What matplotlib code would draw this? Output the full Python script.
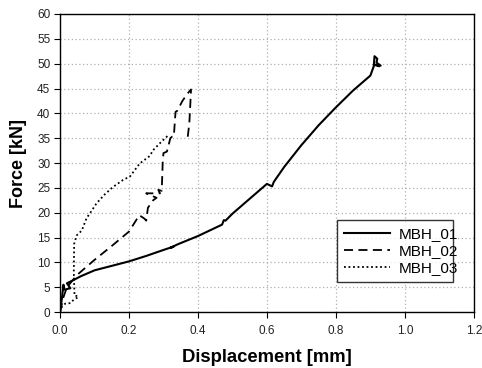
import matplotlib.pyplot as plt
import numpy as np

plt.rcParams['font.family'] = ['Liberation Sans', 'DejaVu Sans']

# MBH_01 (solid)
disp_01 = [0.0, 0.005, 0.01, 0.012, 0.03, 0.02, 0.035, 0.06, 0.1, 0.15, 0.2, 0.25,
           0.3, 0.33, 0.32, 0.34, 0.4, 0.47, 0.475, 0.48, 0.5, 0.55, 0.6, 0.615,
           0.62, 0.65, 0.7, 0.75, 0.8, 0.85, 0.9, 0.91, 0.912, 0.92, 0.918, 0.93, 0.91, 0.925]
force_01 = [0.0, 2.5, 5.5, 4.5, 4.8, 5.8, 6.3, 7.2, 8.4, 9.3, 10.2, 11.3,
            12.5, 13.2, 12.9, 13.6, 15.3, 17.6, 18.5, 18.4, 19.8, 22.8, 25.8, 25.3,
            26.2, 29.2, 33.6, 37.6, 41.2, 44.6, 47.6, 49.5, 51.5, 51.0, 50.2, 49.6, 49.8, 49.5]

# MBH_02 (dashed)
disp_02 = [0.0, 0.01, 0.02, 0.05, 0.1, 0.15, 0.2, 0.23, 0.245, 0.25, 0.255, 0.27,
           0.28, 0.25, 0.29, 0.285, 0.295, 0.298, 0.30, 0.31, 0.32, 0.325, 0.33,
           0.335, 0.34, 0.355, 0.37, 0.38, 0.378, 0.375, 0.37]
force_02 = [0.0, 3.0, 5.0, 7.5, 10.5, 13.3, 16.2, 19.5, 18.8, 18.4, 21.0, 22.5,
            23.0, 23.9, 23.9, 24.6, 24.4, 30.5, 32.0, 32.3, 35.0, 35.3, 35.3,
            40.3, 40.5, 42.5, 44.0, 44.8, 42.0, 38.0, 35.0]

# MBH_03 (dotted)
disp_03 = [0.0, 0.005, 0.015, 0.03, 0.04, 0.05, 0.053, 0.042, 0.04, 0.041, 0.048,
           0.063, 0.077, 0.087, 0.106, 0.13, 0.154, 0.183, 0.203, 0.231, 0.26, 0.27,
           0.29, 0.314]
force_03 = [0.0, 1.0, 1.7, 1.8, 2.5, 2.9, 3.2, 3.3, 8.0, 13.7, 15.4,
            16.4, 18.9, 19.9, 21.9, 23.7, 25.2, 26.6, 27.3, 29.9, 31.4, 32.6,
            34.0, 35.6]

x_ticks = [0.0, 0.2, 0.4, 0.6, 0.8, 1.0, 1.2]
y_ticks = list(range(0, 61, 5))

fig = plt.figure(figsize=(4.82, 3.68), dpi=100)
ax = fig.add_axes([0.1245, 0.152, 0.8585, 0.81])

ax.plot(disp_01, force_01, color='black', linestyle='-', linewidth=1.5, label='MBH_01')
ax.plot(disp_02, force_02, color='black', linestyle=(0, (5, 3)), linewidth=1.3, label='MBH_02')
ax.plot(disp_03, force_03, color='black', linestyle=(0, (1, 1.5)), linewidth=1.3, label='MBH_03')

ax.set_xlim(0, 1.2)
ax.set_ylim(0, 60)
ax.set_xticks(x_ticks)
ax.set_xticklabels(['%.1f' % v for v in x_ticks])
ax.set_yticks(y_ticks)
ax.tick_params(labelsize=8.5, direction='out', length=4, width=0.8, pad=3,
               labelcolor='#222222')
ax.tick_params(axis='x', pad=5)

ax.grid(True, color='#b0b0b0', linestyle=(0, (1, 2)), linewidth=0.9)
ax.set_axisbelow(True)
for s in ax.spines.values():
    s.set_linewidth(1.0)

ax.set_xlabel('Displacement [mm]', fontsize=13.3, fontweight='bold', labelpad=9)
ax.set_ylabel('Force [kN]', fontsize=13, fontweight='bold', labelpad=7)

leg = ax.legend(loc='lower left', bbox_to_anchor=(0.669, 0.1, 0.28, 0.226), mode='expand',
                fontsize=11, frameon=True, fancybox=False, handlelength=3.0,
                handletextpad=0.6, borderaxespad=0, labelspacing=0.2, borderpad=0.45)
leg.get_frame().set_edgecolor('black')
leg.get_frame().set_linewidth(1.0)

fig.savefig('out.png', dpi=100)
